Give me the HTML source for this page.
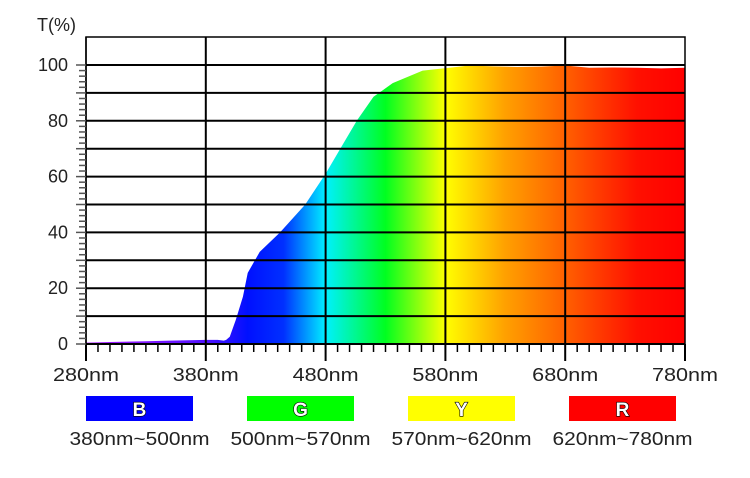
<!DOCTYPE html>
<html><head><meta charset="utf-8"><style>
body{margin:0;background:#fff;}
svg text{font-family:"Liberation Sans",sans-serif;}
</style></head><body>
<svg id="chart" width="750" height="473" xmlns="http://www.w3.org/2000/svg">
<defs>
<linearGradient id="spec" gradientUnits="userSpaceOnUse" x1="86" y1="0" x2="685" y2="0">
<stop offset="0" stop-color="#b020ff"/>
<stop offset="0.2" stop-color="#5010ff"/>
<stop offset="0.27" stop-color="#0010ff"/>
<stop offset="0.33" stop-color="#0030ff"/>
<stop offset="0.4" stop-color="#00f0ff"/>
<stop offset="0.5" stop-color="#00ff20"/>
<stop offset="0.6" stop-color="#ffff00"/>
<stop offset="0.7" stop-color="#ffa000"/>
<stop offset="0.8" stop-color="#ff6000"/>
<stop offset="0.92" stop-color="#ff1000"/>
<stop offset="1" stop-color="#ff0000"/>
</linearGradient>
</defs>
<g id="plot"></g>
<g id="legend"></g>
</svg>
<script>
const wavelengths=[280,300,330,350,380,390,395,397,400,405,411,415,425,442,463,480,495,506,520,536,561,592,600,620,640,660,680,700,720,740,760,780];
const transmittance=[0.5,0.7,1,1.2,1.5,1.5,1.2,1.5,2.6,8.6,17,25.5,33,40,50,61,72,80,88.6,93.5,98,99.4,99.8,99.5,99.3,99.4,99.8,99,99.1,99,98.8,99];
const xTicks=[280,380,480,580,680,780];
const yTicks=[0,20,40,60,80,100];
const legendLetters=["B","G","Y","R"];
const legendRanges=["380nm~500nm","500nm~570nm","570nm~620nm","620nm~780nm"];
const legendColors=["#0000ff","#00ff00","#ffff00","#ff0000"];
const NS="http://www.w3.org/2000/svg";
const X=v=>86+(v-280)*(685-86)/500;
const Y=v=>344-v*(344-65)/100;
const plot=document.getElementById('plot');
function mk(tag,attrs,parent){const e=document.createElementNS(NS,tag);for(const k in attrs)e.setAttribute(k,attrs[k]);parent.appendChild(e);return e;}
let d=`M${X(wavelengths[0])},${Y(0)}`;
wavelengths.forEach((w,i)=>{d+=` L${X(w)},${Y(transmittance[i])}`;});
d+=` L${X(wavelengths[wavelengths.length-1])},${Y(0)} Z`;
const area=mk('path',{d:d,fill:'url(#spec)'},plot);


const fr=mk('rect',{x:86,y:37,width:599,height:307,fill:'none',stroke:'#000','stroke-width':1.5},plot);


for(let v=10;v<=100;v+=10){const l=mk('line',{x1:86,x2:685,y1:Y(v),y2:Y(v),stroke:'#000','stroke-width':2},plot);

}
xTicks.slice(1,-1).forEach(v=>{const l=mk('line',{x1:X(v),x2:X(v),y1:37,y2:344,stroke:'#000','stroke-width':2},plot);

});
mk('line',{x1:86,x2:685,y1:344,y2:344,stroke:'#000','stroke-width':2},plot);
mk('line',{x1:86,x2:86,y1:37,y2:344,stroke:'#000','stroke-width':1.5},plot);
for(let w=280;w<=780;w+=10){const maj=(w-280)%100===0;mk('line',{x1:X(w),x2:X(w),y1:344,y2:maj?361:352,stroke:'#000','stroke-width':maj?2:1.5},plot);}
for(let v=0;v<=100;v+=2){const maj=v%10===0;mk('line',{x1:maj?76:79,x2:86,y1:Y(v),y2:Y(v),stroke:'#555','stroke-width':1.5},plot);}
xTicks.forEach(v=>{const t=mk('text',{x:X(v),y:381,'text-anchor':'middle','font-size':18,fill:'#222',textLength:66,lengthAdjust:'spacingAndGlyphs'},plot);t.textContent=v+'nm';

});
yTicks.forEach(v=>{const t=mk('text',{x:68,y:Y(v)+6,'text-anchor':'end','font-size':18,fill:'#222'},plot);t.textContent=v;

});
const yt=mk('text',{x:37,y:31,'font-size':18,fill:'#222'},plot);yt.textContent='T(%)';


const lg=document.getElementById('legend');
legendLetters.forEach((L,i)=>{const x0=86+i*161;
const r=mk('rect',{x:x0,y:396,width:107,height:25,fill:legendColors[i]},lg);


const t=mk('text',{x:x0+53.5,y:416,'text-anchor':'middle','font-size':19,'font-weight':'bold',fill:'#fff',stroke:'#000','stroke-width':1.2,'paint-order':'stroke'},lg);t.textContent=L;


const t2=mk('text',{x:x0+53.5,y:445,'text-anchor':'middle','font-size':18,fill:'#222',textLength:140,lengthAdjust:'spacingAndGlyphs'},lg);t2.textContent=legendRanges[i];

});
</script>
</body></html>
